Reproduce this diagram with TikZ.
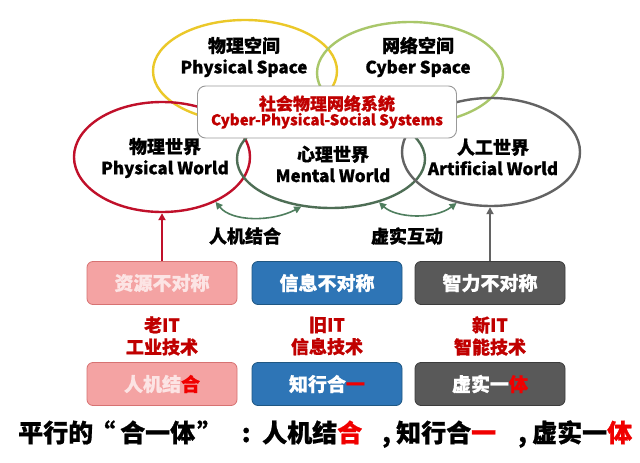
\documentclass[tikz,border=0pt]{standalone}
\usepackage{fontspec}
\setmainfont{Noto Sans CJK SC}[BoldFeatures={FakeBold=0.8}]
\usetikzlibrary{shapes.geometric,arrows.meta}
\definecolor{cyel}{HTML}{EBC829}
\definecolor{clgr}{HTML}{A9C76A}
\definecolor{cred}{HTML}{C0102A}
\definecolor{cdgr}{HTML}{4E6E55}
\definecolor{cgry}{HTML}{636363}
\definecolor{carr}{HTML}{4F7E5E}
\definecolor{ctxt}{HTML}{C00000}
\definecolor{chot}{HTML}{F00000}
\definecolor{cpink}{HTML}{F4A3A3}
\definecolor{cpinkd}{HTML}{D77272}
\definecolor{cpinkt}{HTML}{FCE4E4}
\definecolor{cblue}{HTML}{2E75B6}
\definecolor{cblued}{HTML}{1F5783}
\definecolor{cdark}{HTML}{595959}
\definecolor{cdarkd}{HTML}{3C3C3C}
\newcommand{\latn}{\fontsize{17}{21}\selectfont}
\begin{document}
\begin{tikzpicture}[x=1pt,y=-1pt,
  ell/.style={ellipse,draw,line width=2.4pt,inner sep=0pt},
  lab/.style={font=\fontsize{18}{21}\selectfont\bfseries,align=center,text=black,inner sep=0pt},
  cbox/.style={rounded corners=6pt,line width=0.8pt,minimum width=150,minimum height=43,inner sep=0pt,
     font=\fontsize{19}{22}\selectfont\bfseries,text=white},
  itlab/.style={font=\fontsize{18}{22}\selectfont\bfseries,align=center,text=ctxt,inner sep=0pt},
  garr/.style={<->,>={Triangle[length=7pt,width=7pt]},line width=1.6pt,draw=carr},
  uarr/.style={->,>={Triangle[length=7pt,width=7pt]},line width=2pt},
  mid/.style={font=\fontsize{18}{21}\selectfont\bfseries,inner sep=0pt}
]
\useasboundingbox (0,0) rectangle (640,463);
\fill[white] (0,0) rectangle (640,463);

% ellipses
\node[ell,draw=cyel,minimum width=184,minimum height=102] (ps) at (245,71) {};
\node[ell,draw=clgr,minimum width=186,minimum height=102] (cs) at (410,73) {};
\node[ell,draw=cred,minimum width=176,minimum height=110] (pw) at (162,157) {};
\node[ell,draw=cdgr,minimum width=188,minimum height=98] (mw) at (331,159) {};
\node[ell,draw=cgry,minimum width=178,minimum height=108] (aw) at (491,152) {};

% ellipse labels
\node[lab] (pst) at (244,57) {物理空间\\{\latn Physical Space}};
\node[lab] (cst) at (418,57) {网络空间\\{\latn Cyber Space}};
\node[lab] (pwt) at (165,158) {物理世界\\{\latn Physical World}};
\node[lab] (mwt) at (333,164) {心理世界\\{\latn Mental World}};
\node[lab] (awt) at (493,157) {人工世界\\{\latn Artificial World}};

% CPSS box
\node[rounded corners=8pt,draw=black!40,line width=0.9pt,fill=white,
  minimum width=259,minimum height=52,inner sep=0pt,align=center,text=ctxt] (cps) at (327,112)
  {{\fontsize{17}{20}\selectfont\bfseries 社会物理网络系统}\\{\fontsize{15}{19}\selectfont\bfseries Cyber-Physical-Social Systems}};

% green double arrows
\draw[garr] (pw.-40) .. controls (232,222) and (272,222) .. (mw.-122);
\draw[garr] (mw.-42) .. controls (396,218) and (434,220) .. (aw.-124);
\node[mid] (hm) at (245,236) {人机结合};
\node[mid] (xs) at (407,236) {虚实互动};

% top boxes
\node[cbox,fill=cpink,draw=cpinkd,text=cpinkt] (b1) at (162,283) {资源不对称};
\node[cbox,fill=cblue,draw=cblued] (b2) at (327,283) {信息不对称};
\node[cbox,fill=cdark,draw=cdarkd] (b3) at (490,283) {智力不对称};

\draw[uarr,draw=cred] (b1.north) -- (pw.south);
\draw[uarr,draw=cgry] (b3.north) -- (b3.north |- aw.south);

% IT labels
\node[itlab] (l1) at (162,336) {老IT\\工业技术};
\node[itlab] (l2) at (327,336) {旧IT\\信息技术};
\node[itlab] (l3) at (490,336) {新IT\\智能技术};

% bottom boxes
\node[cbox,fill=cpink,draw=cpinkd,text=cpinkt] (c1) at (162,384) {人机结\textcolor{chot}{合}};
\node[cbox,fill=cblue,draw=cblued] (c2) at (327,384) {知行合\textcolor{chot}{一}};
\node[cbox,fill=cdark,draw=cdarkd] (c3) at (490,384) {虚实一\textcolor{chot}{体}};

% bottom sentence
\node[font=\fontsize{25}{28}\selectfont\bfseries,inner sep=0pt,anchor=west] (sum) at (18,434)
  {平行的\makebox[27pt][r]{“\hspace{5pt}}合一体\makebox[35pt][l]{\hspace{2pt}”}\makebox[32pt]{:}人机结\textcolor{chot}{合}\makebox[34pt][l]{\hspace{20pt},}知行合\textcolor{chot}{一}\makebox[36pt][l]{\hspace{22pt},}虚实一\textcolor{chot}{体}};
\end{tikzpicture}
\end{document}
